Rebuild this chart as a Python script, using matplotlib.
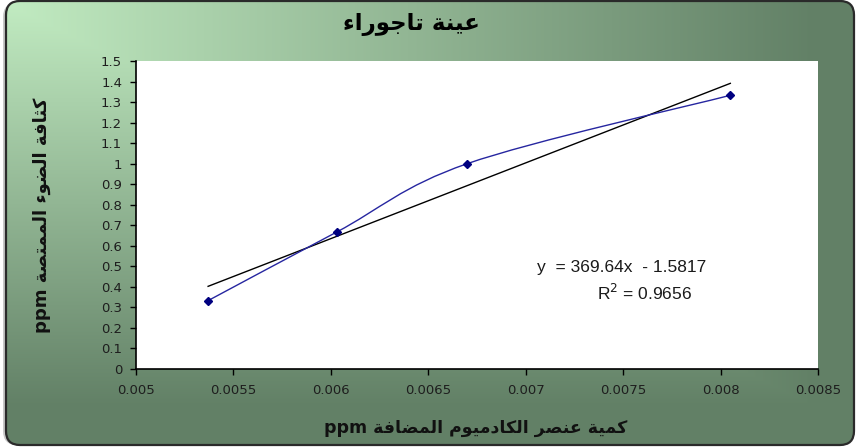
"""Courbe d'ajout dosé : absorbance vs cadmium ajouté (échantillon Tajoura)."""

import numpy as np
import matplotlib

matplotlib.use("Agg")
import matplotlib.pyplot as plt  # noqa: E402
from matplotlib.patches import FancyBboxPatch, PathPatch  # noqa: E402
from matplotlib.path import Path  # noqa: E402

# --------------------------------------------------------------------------- #
# Données
# --------------------------------------------------------------------------- #
conc_ppm = [0.00537, 0.00603, 0.00670, 0.00805]
absorbance = [0.333, 0.667, 1.000, 1.333]

x_ticks = [0.005, 0.0055, 0.006, 0.0065, 0.007, 0.0075, 0.008, 0.0085]
x_tick_labels = ["0.005", "0.0055", "0.006", "0.0065", "0.007", "0.0075", "0.008", "0.0085"]
y_ticks = [0.0, 0.1, 0.2, 0.3, 0.4, 0.5, 0.6, 0.7, 0.8, 0.9, 1.0, 1.1, 1.2, 1.3, 1.4, 1.5]
y_tick_labels = ["0", "0.1", "0.2", "0.3", "0.4", "0.5", "0.6", "0.7", "0.8", "0.9",
                 "1", "1.1", "1.2", "1.3", "1.4", "1.5"]

eq_text = "y  = 369.64x  - 1.5817"
r2_text = "R$^2$ = 0.9656"

# Textes arabes en formes de présentation, ordre visuel (pas de mise en forme
# bidi dans matplotlib).
# « عينة تاجوراء »
title_text = "\ufe80\ufe8d\ufead\ufeee\ufe9f\ufe8e\ufe97 \ufe94\ufee8\ufef4\ufecb"
# « كمية عنصر الكادميوم المضافة ppm »
xlabel_text = ("ppm \ufe94\ufed3\ufe8e\ufec0\ufee4\ufedf\ufe8d "
               "\ufee1\ufeee\ufef4\ufee3\ufea9\ufe8e\ufedc\ufedf\ufe8d "
               "\ufeae\ufebc\ufee8\ufecb \ufe94\ufef4\ufee4\ufedb")
# « كثافة الضوء الممتصة ppm »
ylabel_text = ("ppm \ufe94\ufebc\ufe98\ufee4\ufee4\ufedf\ufe8d "
               "\ufe80\ufeee\ufec0\ufedf\ufe8d \ufe94\ufed3\ufe8e\ufe9c\ufedb")

W, H = 857, 448
plt.rcParams["font.family"] = ["DejaVu Sans"]

fig = plt.figure(figsize=(W / 100, H / 100), dpi=100)
fig.patch.set_facecolor("white")

# --------------------------------------------------------------------------- #
# Fond : cadre arrondi à dégradé vert (depuis le coin haut-gauche)
# --------------------------------------------------------------------------- #
bg = fig.add_axes([0, 0, 1, 1], zorder=-1)
bg.set_xlim(0, W)
bg.set_ylim(H, 0)
bg.axis("off")

light = np.array([194, 236, 194]) / 255
dark = np.array([98, 128, 102]) / 255
gx, gy = np.meshgrid(np.linspace(0, 1, W), np.linspace(0, 1, H))
t = np.clip(np.maximum(gx * 1.05, gy * 1.1), 0, 1)[..., None]
grad = light * (1 - t) + dark * t

shadow = FancyBboxPatch((3, 3), W - 8, H - 6, boxstyle="round,pad=0,rounding_size=14",
                        facecolor="#c8c8c8", edgecolor="none")
bg.add_patch(shadow)
frame = FancyBboxPatch((6, 1), W - 9, H - 4, boxstyle="round,pad=0,rounding_size=14",
                       facecolor="none", edgecolor="#2a2a2a", lw=1.6, zorder=3)
bg.add_patch(frame)
img = bg.imshow(grad, extent=(0, W, H, 0), aspect="auto", zorder=2)
img.set_clip_path(frame)

# --------------------------------------------------------------------------- #
# Zone de tracé
# --------------------------------------------------------------------------- #
ax = fig.add_axes([136 / W, 1 - 369 / H, (818 - 136) / W, (369 - 61) / H])
ax.set_facecolor("white")
ax.set_xlim(0.005, 0.0085)
ax.set_ylim(0, 1.5)
for side in ("top", "right"):
    ax.spines[side].set_visible(False)
for side in ("left", "bottom"):
    ax.spines[side].set_color("black")
    ax.spines[side].set_linewidth(1.2)

ax.set_xticks(x_ticks)
ax.set_xticklabels(x_tick_labels)
ax.set_yticks(y_ticks)
ax.set_yticklabels(y_tick_labels)
ax.tick_params(direction="out", length=4, width=1, colors="black",
               labelsize=9.5, labelcolor="#1e1e1e")
ax.tick_params(axis="x", pad=7)
ax.tick_params(axis="y", pad=6)

# Courbe lissée (Bézier à la manière d'Excel)
px = np.array(conc_ppm)
py = np.array(absorbance)
pts = np.column_stack([px, py])
ext = np.vstack([pts[0], pts, pts[-1]])
verts = [tuple(pts[0])]
codes = [Path.MOVETO]
for i in range(len(pts) - 1):
    p0, p1, p2, p3 = ext[i], ext[i + 1], ext[i + 2], ext[i + 3]
    c1 = p1 + (p2 - p0) / 6
    c2 = p2 - (p3 - p1) / 6
    verts += [tuple(c1), tuple(c2), tuple(p2)]
    codes += [Path.CURVE4] * 3
ax.add_patch(PathPatch(Path(verts, codes), facecolor="none",
                       edgecolor="#2626a0", lw=1.0, zorder=3))
ax.plot(conc_ppm, absorbance, linestyle="none", marker="D", ms=4.5,
        color="#000080", zorder=4)

# Droite de régression
slope, intercept = np.polyfit(px, py, 1)
fx = np.array([px.min(), px.max()])
ax.plot(fx, slope * fx + intercept, color="black", lw=1.0, zorder=2)

ax.text(0.00706, 0.492, eq_text, ha="left", va="center", fontsize=12.5, color="#1a1a1a",
        family="Liberation Sans")
ax.text(0.00761, 0.370, r2_text, ha="center", va="center", fontsize=12.5, color="#1a1a1a",
        family="Liberation Sans")

# --------------------------------------------------------------------------- #
# Titres
# --------------------------------------------------------------------------- #
fig.text(411 / W, 1 - 24 / H, title_text, ha="center", va="center",
         fontsize=16.5, fontweight="bold", color="black")
fig.text(476 / W, 1 - 428 / H, xlabel_text, ha="center", va="center",
         fontsize=12.5, fontweight="bold", color="#111111")
fig.text(42 / W, 1 - 215 / H, ylabel_text, ha="center", va="center", rotation=90,
         fontsize=13, fontweight="bold", color="#111111")

fig.savefig("out.png", dpi=100)
plt.close(fig)
